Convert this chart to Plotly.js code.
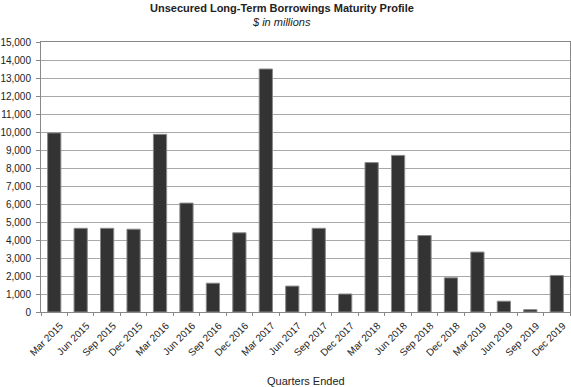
<!DOCTYPE html>
<html>
<head>
<meta charset="utf-8">
<script src="https://cdn.plot.ly/plotly-3.0.1.min.js"></script>
<style>html,body{margin:0;padding:0;background:#fff;}#chart{width:571px;height:387px;}</style>
</head>
<body>
<div id="chart"></div>
<script>
const quarters = ["Mar 2015","Jun 2015","Sep 2015","Dec 2015","Mar 2016","Jun 2016","Sep 2016","Dec 2016","Mar 2017","Jun 2017","Sep 2017","Dec 2017","Mar 2018","Jun 2018","Sep 2018","Dec 2018","Mar 2019","Jun 2019","Sep 2019","Dec 2019"];
const amounts = [9950,4650,4650,4600,9870,6050,1600,4400,13500,1440,4650,1000,8300,8700,4250,1900,3330,600,130,2030];
const yTicks = [0,1000,2000,3000,4000,5000,6000,7000,8000,9000,10000,11000,12000,13000,14000,15000];
const titleText = "Unsecured Long-Term Borrowings Maturity Profile";
const subtitleText = "$ in millions";
const xTitleText = "Quarters Ended";

const font = "Liberation Sans, Arial, Helvetica, sans-serif";
Plotly.newPlot("chart", [{
  type: "bar",
  x: quarters,
  y: amounts,
  marker: {color: "#333333", line: {color: "#8a8a8a", width: 1}},
  hoverinfo: "x+y"
}], {
  width: 571, height: 387,
  margin: {l: 41, r: 1, t: 42, b: 75},
  paper_bgcolor: "#fff", plot_bgcolor: "#fff",
  bargap: 0.5,
  showlegend: false,
  font: {family: font, size: 10, color: "#222"},
  annotations: [
    {text: "<b>" + titleText + "</b>", xref: "paper", yref: "paper", x: 0.455, y: 1, xanchor: "center", yanchor: "middle", yshift: 34, showarrow: false, font: {family: font, size: 11, color: "#222"}},
    {text: "<i>" + subtitleText + "</i>", xref: "paper", yref: "paper", x: 0.455, y: 1, xanchor: "center", yanchor: "middle", yshift: 20, showarrow: false, font: {family: font, size: 11, color: "#222"}},
    {text: xTitleText, xref: "paper", yref: "paper", x: 0.5, y: 0, xanchor: "center", yanchor: "middle", yshift: -69, showarrow: false, font: {family: font, size: 11, color: "#222"}}
  ],
  xaxis: {
    type: "category",
    tickangle: -45,
    ticks: "outside", ticklen: 3, tickcolor: "#888", tickson: "boundaries",
    ticklabelstandoff: 3, ticklabelshift: 6,
    showline: true, linecolor: "#888", linewidth: 1, mirror: true,
    showgrid: false,
    tickfont: {family: font, size: 10, color: "#222"},
    automargin: false
  },
  yaxis: {
    range: [0, 15000],
    tickvals: yTicks,
    tickformat: ",d",
    ticks: "outside", ticklen: 4, tickcolor: "#888",
    ticklabelstandoff: 3,
    showline: true, linecolor: "#888", linewidth: 1, mirror: true,
    showgrid: true, gridcolor: "#a8a8a8", gridwidth: 1,
    zeroline: false,
    tickfont: {family: font, size: 10, color: "#222"},
    automargin: false
  }
}, {staticPlot: true});
</script>
</body>
</html>
